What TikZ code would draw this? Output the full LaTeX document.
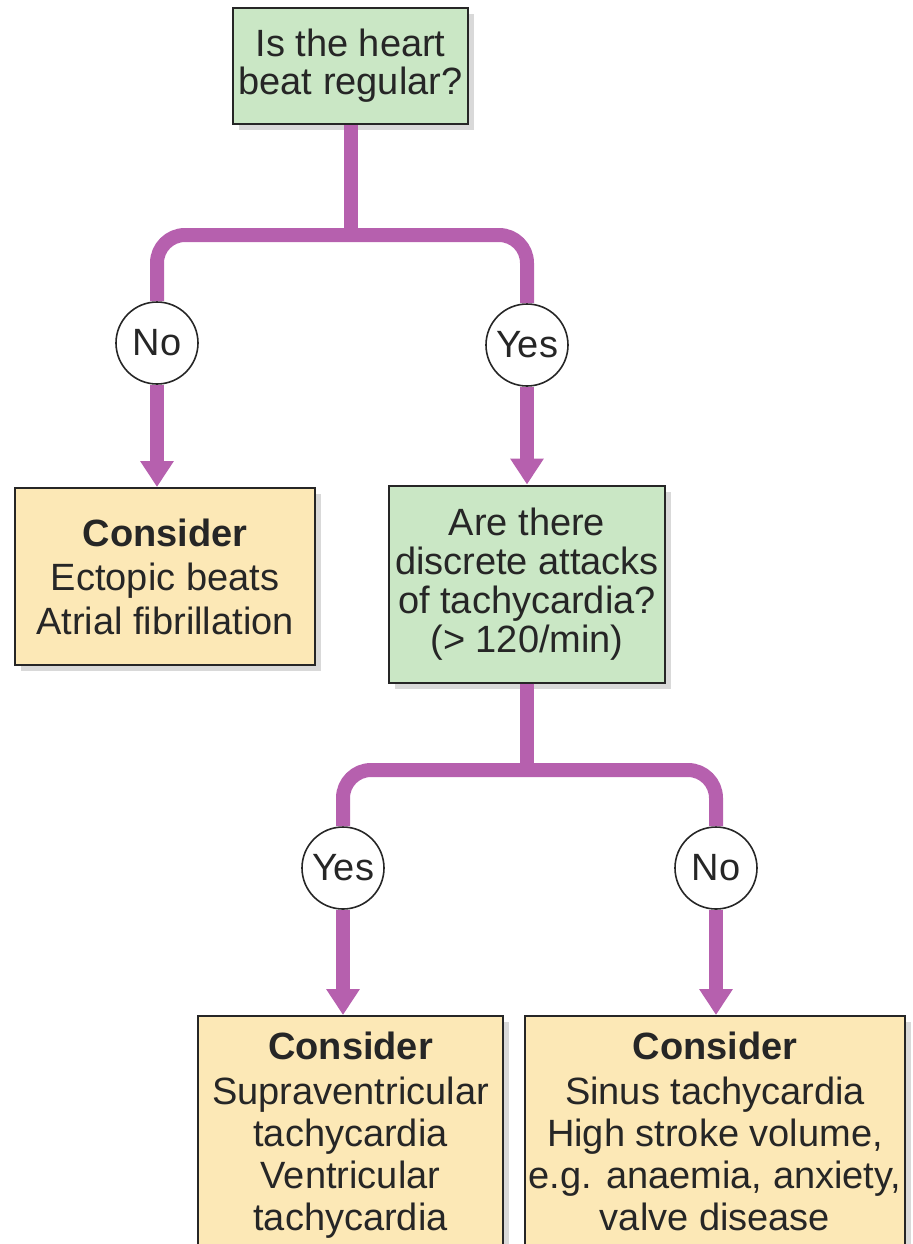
\documentclass[tikz,border=0pt]{standalone}
\usepackage{fontspec}
\setmainfont{Liberation Sans}
\usetikzlibrary{arrows.meta,positioning,shadows}
\definecolor{qgreen}{RGB}{202,231,197}
\definecolor{cbeige}{RGB}{252,232,182}
\definecolor{flowpurple}{RGB}{182,96,174}
\definecolor{inkgray}{RGB}{38,38,38}
\tikzset{
block/.style = {draw=inkgray, line width=1pt, fill=qgreen, rectangle, align=center, text=inkgray, inner sep=3pt,
  drop shadow={shadow xshift=3pt, shadow yshift=-3pt, opacity=0.3}},
result/.style = {block, fill=cbeige},
answer/.style = {draw=inkgray, line width=0.8pt, fill=white, circle, text=inkgray, inner sep=0pt, minimum size=41pt},
pipe/.style = {draw=flowpurple, line width=7pt},
tip/.style = {-{Triangle[width=16pt,length=13pt]}},
tmp/.style = {coordinate}
}

\begin{document}
\begin{tikzpicture}[x=0.5pt, y=-0.5pt, font=\fontsize{19}{20}\selectfont]
\useasboundingbox (0,0) rectangle (913,1244);

                \node [block, minimum width=117.5pt, minimum height=58pt, font=\fontsize{19}{19}\selectfont] (heart) at (350.5,66) {Is the heart\\beat regular?};
                \node [tmp] (split1) at (350.5,235) {};
                \node [answer] (no1) at (157,343) {No};
                \node [answer] (yes1) at (527,345) {Yes};
                \node [result, minimum width=150pt, minimum height=88.5pt, font=\fontsize{19}{22}\selectfont] (ectopic) at (165,576.5) {\textbf{Consider}\\Ectopic beats\\Atrial fibrillation};
                \node [block, minimum width=138pt, minimum height=98.5pt, font=\fontsize{19}{19.5}\selectfont] (attacks) at (527,584) {Are there\\discrete attacks\\of tachycardia?\\(> 120/min)};
                \node [tmp] (split2) at (527,770) {};
                \node [answer] (yes2) at (343,868) {Yes};
                \node [answer] (no2) at (716,868) {No};
                \node [result, anchor=north, minimum width=152.5pt, inner ysep=8pt, font=\fontsize{19}{21}\selectfont] (svt) at (350.5,1015) {\textbf{Consider}\\[1.5pt]Supraventricular\\tachycardia\\Ventricular\\tachycardia};
                \node [result, anchor=north, minimum width=190pt, inner xsep=1pt, inner ysep=8pt, font=\fontsize{19}{21}\selectfont] (sinus) at (715,1015) {\textbf{Consider}\\[1.5pt]Sinus tachycardia\\High stroke volume,\\e.g. anaemia, anxiety,\\valve disease};

                \draw [pipe] (heart.south) -- (split1);
                \draw [pipe, rounded corners=14pt] (no1.north) |- (split1) -| (yes1.north);
                \draw [pipe, tip] (no1.south) -- (no1.south |- ectopic.north);
                \draw [pipe, tip] (yes1.south) -- (yes1.south |- attacks.north);
                \draw [pipe] (attacks.south) -- (split2);
                \draw [pipe, rounded corners=14pt] (yes2.north) |- (split2) -| (no2.north);
                \draw [pipe, tip] (yes2.south) -- (yes2.south |- svt.north);
                \draw [pipe, tip] (no2.south) -- (no2.south |- sinus.north);
\end{tikzpicture}
\end{document}
